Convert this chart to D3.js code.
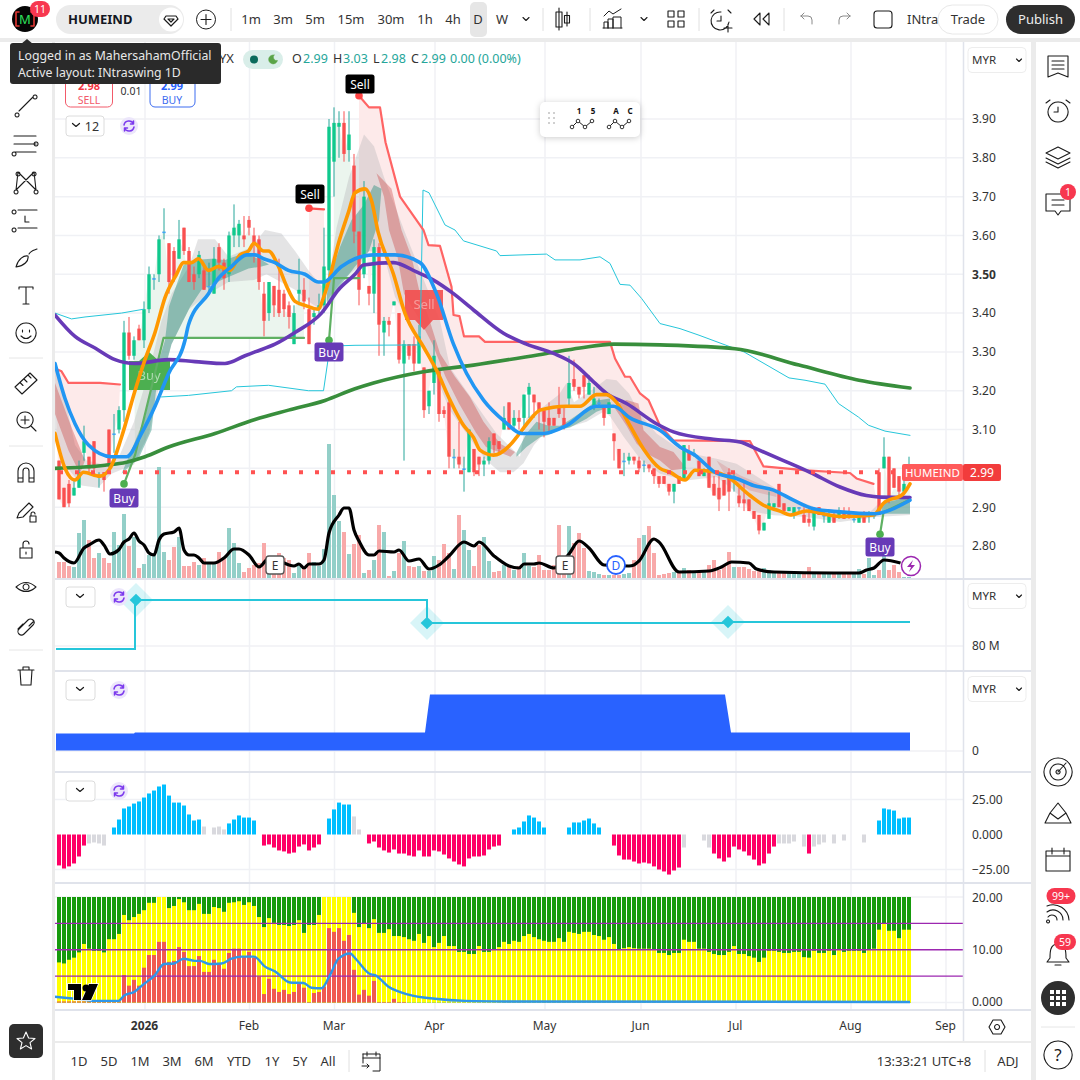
<!DOCTYPE html>
<html>
<head>
<meta charset="utf-8">
<title>HUMEIND</title>
<script src="https://cdn.jsdelivr.net/npm/d3@7/dist/d3.min.js"></script>
<style>
    html, body { margin: 0; padding: 0; background: #fff; }
    svg { display: block; }
    text { font-family: "Noto Sans", sans-serif; }
</style>
</head>
<body>
<script>
// prices are kept in sen, one entry per daily bar
var opens = [302,295,296,293,295,304,303,307,298,299,
    310,309,310,315,335,329,336,333,341,349,
    350,361,358,356,354,362,356,350,350,351,
    347,345,357,353,350,360,360,360,364,360,
    359,345,340,347,346,345,342,332,345,346,
    341,339,341,342,351,379,388,389,382,378,
    361,350,347,345,357,335,338,342,340,327,
    332,332,327,326,316,322,325,315,317,303,
    303,300,299,305,303,301,302,309,307,310,
    317,311,313,313,319,319,317,315,313,313,
    316,313,318,323,321,324,319,316,317,316,
    314,309,305,302,302,303,302,301,301,300,
    298,298,296,294,298,297,304,304,302,298,
    303,296,295,297,299,298,293,292,292,289,
    288,284,287,290,296,291,289,288,290,288,
    287,285,290,288,286,288,288,289,289,287,
    286,288,288,288,299,300,303,300,298,294,299];
var highs = [302,295,297,297,302,311,303,307,299,299,
    310,314,316,338,339,334,337,343,352,350,
    360,367,358,357,364,362,357,352,356,352,
    353,357,358,354,361,368,364,365,365,362,
    360,348,348,347,354,346,343,342,354,349,
    344,341,345,362,390,393,392,392,392,381,
    361,374,347,359,358,339,339,343,340,333,
    332,334,337,326,320,333,325,316,318,305,
    312,303,310,305,303,303,308,309,307,316,
    317,315,315,319,322,319,317,315,317,313,
    321,316,329,328,321,324,324,321,318,316,
    317,309,305,304,304,303,303,302,301,300,
    298,298,296,296,298,306,306,305,302,300,
    303,298,298,297,300,299,295,297,292,289,
    288,286,294,291,296,291,290,290,290,290,
    290,290,290,289,289,289,290,290,290,288,
    288,289,289,288,300,308,303,300,298,300,303];
var lows = [292,290,290,293,295,302,299,299,295,294,
    299,304,309,312,328,328,333,331,340,346,
    348,359,345,348,354,355,348,346,349,346,
    345,345,351,346,348,357,357,357,360,353,
    346,334,338,339,339,339,336,332,342,341,
    332,337,339,340,349,370,380,379,379,358,
    342,349,342,340,329,329,334,342,327,302,
    328,325,327,313,314,319,312,313,300,300,
    300,294,299,298,298,298,301,304,304,310,
    310,310,310,310,313,313,310,308,309,311,
    313,310,316,320,318,318,319,315,316,311,
    314,302,300,298,301,301,299,299,299,296,
    295,296,293,291,296,297,302,303,298,298,
    295,293,289,293,289,294,290,289,289,287,
    283,284,287,289,290,289,289,287,289,286,
    285,284,288,286,286,286,287,287,287,286,
    286,286,286,287,288,300,291,295,293,294,298];
var closes = [292,290,291,295,299,307,300,300,298,297,
    301,309,315,335,329,333,333,341,350,349,
    359,361,348,349,359,356,348,348,355,346,
    347,354,353,349,360,362,363,359,362,358,
    348,338,348,342,340,341,339,340,346,343,
    332,340,342,352,388,389,389,381,386,361,
    346,370,345,357,337,338,337,343,328,332,
    329,327,334,315,320,329,314,314,303,303,
    301,300,310,299,301,302,307,306,305,313,
    310,313,312,319,321,317,315,312,311,311,
    314,311,322,321,319,321,322,318,317,313,
    317,307,300,302,303,302,300,301,300,298,
    296,296,294,296,296,306,302,304,298,299,
    295,293,292,293,294,298,291,291,289,287,
    284,286,291,291,290,289,290,290,290,286,
    286,289,288,288,288,286,289,287,288,287,
    288,286,288,288,288,303,292,295,294,296,299];

var volumes = [16,16,12,11,45,58,38,20,25,20,
    15,46,33,64,32,41,10,14,23,25,
    111,26,18,31,41,12,12,16,13,20,
    15,14,26,19,50,35,15,6,10,13,
    15,35,5,15,25,20,18,5,15,11,
    25,16,12,29,134,83,57,46,24,34,
    43,5,8,18,53,46,2,7,25,37,
    12,11,12,7,7,22,18,34,25,9,
    63,48,28,12,33,41,17,6,7,13,
    12,8,12,25,12,11,23,8,8,13,
    53,10,52,35,45,30,7,6,4,3,
    3,3,3,4,5,18,40,43,52,25,
    3,4,5,6,5,10,8,6,6,8,
    13,18,8,13,26,11,11,11,9,7,
    7,10,8,5,5,6,5,4,4,5,
    11,6,6,5,5,5,5,4,4,5,
    9,4,20,3,8,28,8,13,6,1,1];

// overlay lines: [bar, sen]
var orangeLine = [[-0.8,309],[1.2,300],[3.2,297],[4.9,299],[8.2,298],[10.2,300],[12.5,308],[15.2,320],[17.2,328],[19.2,335],
    [21.2,344],[23.5,350],[24.9,353],[26.5,353],[27.9,354],[29.9,351],[31.9,352],[34.2,351],[36.2,355],[37.9,356],[39,358],
    [40.9,356],[41.9,356],[43.9,352],[45.5,347],[47.2,343],[49.2,342],[51.9,341],[52.9,344],[53.9,348],[55.9,358],[57.9,366],
    [59.2,371],[61.2,372],[62.5,369],[63.8,361],[66.9,350],[69.2,339.9],[72.9,331.3],[75.5,325.3],[78.2,317.6],[80.9,311.1],
    [82.9,308],[84.2,304.7],[86.9,303.4],[90.2,306],[91.5,308],[93.9,312],[96.2,315],[101.5,316],[104.2,316],[107.5,319],[109.5,319],
    [111.5,317],[114.2,311],[116.9,305],[120.2,300],[122.2,299],[125.2,297],[127.2,299.5],[131.5,299],[133.5,298],[138.2,293],
    [140.9,290.5],[144.2,289],[146.2,288],[149.5,289],[156.2,287.6],[162.9,288],[164.9,291],[168.9,293.5],[170.2,296]];
var blueLine = [[-0.8,327],[1.2,318],[3.2,311.5],[5.9,306],[10.5,303],[13.5,303],[16.5,309],[19.2,316],[21.9,324.4],[25.2,333],
    [25.9,337],[29.9,345],[31.9,349],[34.5,352],[37.5,355],[39.2,355],[40.9,354],[43.2,353],[45.9,351],[49.2,350],[51.9,348],
    [52.9,348],[56.5,352],[59.2,354],[62.9,355],[67.2,355],[72.2,353],[75.5,345],[78.9,332],[81.5,324.5],[84.9,317.6],[89.2,312],
    [92.5,309],[96.9,309],[101.5,311],[107.5,316],[110.9,316],[114.2,313],[120.2,309.8],[124.2,305.5],[127.2,303.4],[131.2,299],
    [135.5,297.4],[138.9,295.6],[142.9,294.4],[146.9,291.8],[150.9,289.6],[156.2,288.8],[162.9,288.3],[164.9,288.7],[170.2,291.8]];
var purpleLine = [[-0.8,339.5],[3.2,334],[7.2,331],[11.2,328],[15.2,327],[21.9,328],[27.2,327.5],[33.2,327],[37.2,329],[39.2,330],
    [43.2,332],[47.2,335],[52.5,340],[55.9,346],[59.2,350],[60.9,352.4],[66.9,353],[71.5,350.6],[74.9,348.5],[78.9,345],[82.9,340.8],
    [88.9,334.8],[93.5,332],[98.9,329.6],[102.9,327],[106.9,322.3],[109.5,319.3],[113.5,316.7],[119.5,311.5],[122.9,309.4],[130.9,307.5],
    [136.2,306.8],[139.5,305],[144.9,302],[150.2,299],[156.2,295.2],[161.5,293],[164.2,292.6],[170.2,292.5]];
var greenLine = [[-0.8,300],[9.2,300.8],[13.5,301.6],[17.2,303],[21.9,305.5],[31.2,309],[39.2,312.6],[45.9,315],[53.2,317.5],[59.2,320.5],
    [62.9,322],[72.9,324.9],[82.9,326.6],[97.5,329.6],[104.2,331],[110.9,332],[120.2,331.8],[135.2,330.8],[148,326.6],[160,322.7],[170.2,320.7]];
var cyanLow = [[-0.8,340],[2.5,338.5],[5.2,339],[12.5,340],[16.9,341]];
var cyanBand = [[20.5,318.4],[25.9,318.8],[34.5,320],[35.5,321],[41.9,321.4],[49.9,320],[52.9,320],[54.2,331.5],[59.2,331.7],[72.2,331.8],
    [72.8,371.7],[74,371],[77.2,362.7],[79.2,361.4],[80.9,358.6],[87.5,356],[88.2,354.8],[97.5,355.2],[99.2,353.7],[104.2,353.7],
    [108.2,354.5],[110.2,352.8],[112.2,347.4],[114.2,347.2],[116.5,343.8],[120.2,337.3],[124.2,336],[128,334.3],[137,330],[146,323.3],
    [149.2,322.7],[153.2,321.7],[155.9,316.7],[159.9,313.2],[161.9,311.1],[165.2,309.6],[170.2,308.5]];

// trend stop segments: stop line against the closes
var redStopA = [[-0.8,325.7],[0.5,325],[1.9,322],[8.2,322],[12.2,321.6]];
var redStopB = [[50,367],[53,366.7]];
var redStopC = [[60,396],[62,393],[64.2,393],[65.3,384],[68.2,370],[72.9,361.4],[73.9,357.5],[76.2,357.3],[78.5,346.8],[78.9,339.5],[80.1,339.2],
    [81,334],[84,334],[85.2,332.6],[110.2,332.6],[111.2,328.3],[113.2,323.6],[114.2,323.6],[116.2,319.3],[117.9,317.6],[120.2,311],
    [122.9,307.2],[138.2,307],[140.9,300.5],[149.5,299.5],[158.2,298.8],[159.5,297.4],[162.9,296]];
var greenStopA = [[13,296],[15.2,303.4],[20.9,333.6],[49,333.6]];
var greenStopB = [[54,333],[55,349],[60,349]];
var greenStopC = [[164.2,283],[164.9,288.7],[170.2,292]];

// cloud bands
var greyUpper = [[-0.8,326],[1.2,318],[3.2,306],[5.5,302],[9,301],[12,303],[15,312],[18,325],[20.5,338],[22.5,345],[26,352],[27.8,359],[31.2,359],
    [33.9,354.5],[38.5,357],[41.2,361.4],[44.5,360.5],[47.2,356],[49.9,351],[52.5,347],[54,349],[55.5,362],[58,375],[61,386],[63,383],[65,375],
    [69,361.4],[76.2,338],[78.2,326],[84.2,315],[87.5,309],[92.2,303],[93.5,313],[97,316],[100,319],[101.5,322],[103,317],[107.5,321],[109.5,323],
    [111.5,322.7],[114,319.3],[116.2,314],[119.5,309],[124.9,304.2],[131.5,302.5],[135.5,301.2],[142.9,295.2],[145.5,292.6],[152.2,289.6],[162,288.5],[164,291],[170.2,293]];
var greyLower = [[-0.8,310],[1.2,301],[4.5,295.6],[7.8,295],[10.5,298.6],[15,301],[18,309],[20,321],[22.5,332],[26,341],[29.9,345],[33.9,348],[39,348.5],
    [41.5,350],[47.2,346],[50.5,342.5],[52.5,340.8],[54,344],[57,349],[60,352],[62,356],[64.9,355.4],[67.2,344.2],[70.2,337.3],[73.5,329.6],[76.2,321],
    [78.2,315],[82.9,306.4],[85.5,302],[88.2,299],[90.9,299],[92.9,301.3],[95,306],[97,309],[100,309.8],[105.5,312],[108.9,314.6],[110.2,313.4],[113,308],
    [116.2,302.5],[120.2,298.6],[125.5,296.9],[131.5,297.8],[134.9,294.4],[138.9,288.8],[142.9,287.9],[149.5,287.5],[156.2,286.2],[163.5,287.5],[170.2,288]];
var tealBands = [
    {up: [[12.5,298.6],[14.2,303.8],[17.2,313.2],[19.2,324.4],[21.2,333],[22,341.7],[24.9,352.4],[26.9,353.7],[30.5,354],[33.2,353.7],[37,355.4],[40.5,353.7],[42,352.5]],
     dn: [[12.5,298.6],[15.9,302.5],[18.5,309.8],[19.5,321],[20.5,322],[22.5,332],[25.2,339],[26.2,341.6],[28.5,346],[32.5,348.5],[37.9,351.5],[40.5,352],[42,352.5]]},
    {up: [[53.6,345],[54.2,349.4],[56.2,357],[58.5,364],[59.2,365],[61,368],[63,373],[64.5,372]],
     dn: [[53.6,342.5],[55,345],[59.2,352],[62,356],[64,364],[64.5,372]]},
    {up: [[91.5,304],[93.5,309],[95.5,312],[97.9,311],[100.2,311],[102.2,312.5],[105.5,315.4],[107.5,317.5],[110.2,318]],
     dn: [[91.5,303],[93.5,305.5],[96.2,308],[97.9,308.6],[100.2,310],[102.2,310.5],[105.5,312.8],[107.5,314.6],[110.2,315.9]]},
    {up: [[164.5,291],[170.2,292.6]], dn: [[164.5,288.3],[170.2,288.3]]}
];
var redBands = [
    {up: [[-0.8,322],[2.5,310.6],[5.2,302]], dn: [[-0.8,314],[1.9,304.6],[4.2,298.6],[5.2,302]]},
    {up: [[63.5,376],[66.5,372],[68.5,361.4],[70.5,354.5],[72.2,345],[73.9,339],[76.2,329.6],[79.2,323.6],[82.2,318.4],[84.9,312],[88.2,306.4],[91.2,304.2]],
     dn: [[63.5,376],[65,370],[66,361.4],[67.7,354.5],[69,345],[72,338.6],[74.7,332],[77.3,323.6],[80,316.7],[83.4,309.2],[85.4,305.5],[90.3,303],[91.2,304.2]]},
    {up: [[110.9,316],[113.5,317.6],[115.9,316.7],[116.9,309.8],[120.2,305.5],[122.9,304.2],[125.5,300]],
     dn: [[110.9,316],[113.5,311],[115.5,306.4],[117.5,303.8],[120.2,302],[122.5,299.5],[125.5,300]]},
    {up: [[131.5,302],[136.2,298.2],[140.2,296],[143.5,293.5]], dn: [[131.5,302],[133.5,297.8],[138.2,294.3],[143.5,292.6]], faint: true}
];

// black line over the volume bars, same units as the volumes
var blackLine = [[-0.8,26],[0,25],[1,20],[3,15],[5,30],[6,33],[8,38],[9,33],[10.2,24],[11.9,28],[13,36],[14,39],[15,45],[16,37],[17,33],[18,25],[19,23],
    [20,38],[21,44],[23,46],[24,50],[25,28],[26,23],[27,23],[28,20],[29,15],[31,15],[33,20],[35,29],[36,29],[38,23],[40,11],[42,20],[45,15],[46,13],[47,12],
    [48,14],[49,10],[50,14],[52,14],[53,18],[54,45],[56,63],[57,70],[58,70],[59,48],[60,37],[62,23],[63,23],[64,27],[67,26],[68,28],[70,17],[72,19],[74,9],
    [76,13],[78,22],[81,36],[83,32],[84,36],[87,22],[90,12],[92,10],[93,14],[95,14],[96,15],[99,10],[102,24],[104,37],[106,30],[109,13],[114,12],[115,13],
    [116,17],[119,39],[120,36],[124,6],[130,7],[132.5,11],[134.5,16],[138,15],[139.5,9],[143,6],[155,5],[160,5],[161.5,8],[163,10],[165,18],[168.3,15]];

// lower panes
var floatSteps = [[-0.6,77],[15.2,77],[15.2,126],[73.6,126],[73.6,103],[133.8,103],[133.8,104],[170.2,104]];
var floatMarks = [[15.4,126],[73.6,103],[133.8,104]];
var sharesArea = [[-0.6,17],[15,17],[15.2,18],[73.2,18],[74.2,56],[133.2,56],[134.4,18],[170.2,18]];
var histValues = [-22.1,-24.3,-22.8,-20.7,-15.7,-7.9,-6.4,-5.7,-6.4,-7.9,
    0,5,10.7,18.6,20,22.1,23.6,26.4,29.3,31.4,
    34.3,35.7,27.8,22.8,22.8,20.7,14.3,10,10.7,5.7,
    0,5,5.7,3.6,7.9,10.7,13.6,12.1,12.1,10,
    0,-7.9,-7.1,-9.3,-11.4,-12.1,-13.6,-12.9,-8.6,-7.1,
    -11.4,-9.3,-7.1,0,11.4,17.9,22.8,21.4,21.4,12.9,
    3.6,0,-6.4,-5,-9.3,-11.4,-12.9,-10.7,-13.6,-13.6,
    -15,-15.7,-11.4,-15.7,-15.7,-11.4,-12.1,-14.3,-17.1,-19.3,
    -21.4,-22.8,-17.1,-15.7,-15.7,-15,-10.7,-8.6,-7.9,0,
    0,3.6,5,9.3,13.6,12.1,9.3,5,0,0,
    0,0,5,8.6,8.6,10,11.4,7.9,5,0,
    0,-7.9,-15,-17.9,-17.9,-19.3,-20.7,-20,-20.7,-22.8,
    -25,-26.4,-28.6,-25.7,-23.6,-9.3,0,0,0,-4.3,
    -9.3,-13.6,-17.1,-19.3,-16.4,-8.6,-10.7,-12.1,-15,-17.9,
    -22.1,-20.7,-13.6,-8.6,-6.4,-6.4,-6.4,-5,0,-8.6,
    -13.6,-8.6,-7.1,-5.7,0,-6.4,0,-4.3,0,0,
    0,-5.7,0,0,10,18.6,17.9,17.1,11.4,12.1,12.1];
var histGrey = [6,7,8,9,29,31,32,33,59,60,125,129,130,144,145,146,147,149,151,152,153,155,157,161];
var yellowTops = [7.6,7.4,8.1,8.5,9.5,11.1,10.2,9.8,9.8,9.5,
    12,12,13,16.6,15.6,16.2,16.8,17.5,18.9,18.9,
    20,20,17.9,18.3,19.6,19,17.5,17.5,18.7,16.8,
    16.8,18.1,17.9,17.2,18.9,19,19.2,18.5,19,18.3,
    16.2,14.3,16,15.1,14.7,14.7,14.5,14.7,15.6,13.2,
    14.7,14.7,16.6,20,20,20,20,20,20,17,
    14.3,14.9,14.1,15.8,13.2,13.2,13.9,12.6,12.6,12.4,
    12,11.7,13,11.3,12.6,10.5,11.3,12.6,10.7,10.7,
    9.6,9.6,9.2,9.2,10.7,9.6,9.6,10,10.5,11.5,
    11.1,11.7,11.5,12.6,13,12.4,12,11.7,11.5,11.5,
    12.2,11.5,13.4,13.2,13,13.4,13.4,12.8,12.6,11.9,
    12.4,11.1,10,10.3,10.5,10.3,10.2,10.2,10.2,10,
    9.4,9.4,9,9.4,9.4,11.9,11.5,11.5,10.2,10.2,
    9.6,9.2,9,9,9.6,10.7,9.2,9.2,8.8,8.5,
    7.7,8.5,9.8,9.8,9.6,9.4,9.4,9.6,9.6,8.6,
    8.5,9.8,9.4,9.4,9.8,9,10,9.6,9.8,9.8,
    9.8,9.4,10,10.2,13.8,14.9,13.6,13.6,12.2,13.8,13.8];
var redTops = [0.2,0.2,0.2,0.2,0.2,0.2,0.2,0.2,0.2,0.2,
    0.2,0.2,0.2,5.2,3.2,4.3,3.2,6.6,9,9,
    11.5,11.5,7.7,7.9,10.5,9.6,6.9,6.9,8.8,5.8,
    5.8,8.1,7.5,6.4,9.4,10.2,10.2,8.8,9.6,8.5,
    4.9,1.6,4.5,2.6,2,2.4,1.6,2,3.5,2.8,
    0.1,1.8,2,3,14.1,13.4,14.1,11.7,12.8,6.2,
    1.5,2.4,1.3,4.1,0.1,0.1,0.1,0.7,0.1,0.1];
var stackLine = [[-0.8,1.1],[3.2,0.7],[7.2,0.3],[11.9,0.3],[13,1.3],[15.2,2.1],[16.7,3.3],[19.2,5.2],[21,7.3],[23,7.4],[24.9,8.3],[27.2,7.9],[28.2,7.9],
    [30,7.3],[32.5,7.4],[34.5,8.3],[36.5,8.7],[39,8.7],[41.2,6.8],[43.2,5.9],[46.2,3.8],[48.9,3.7],[50.5,2.8],[52.5,2.7],[54.2,5.2],[55.9,8.3],[58.2,9.3],
    [59.5,8.1],[62.2,5.4],[63.2,5.2],[65.9,3],[69.9,1.5],[75.2,0.7],[81.2,0.3],[89.2,0.2],[170.2,0.1]];
var stackLevels = [5, 10, 15];

// axis labels
var priceTicks = [3.9,3.8,3.7,3.6,3.5,3.4,3.3,3.2,3.1,2.9,2.8];
var histTicks = [25,0,-25];
var stackTicks = [20,10,0];
var monthBars = [17.2,38.1,55.1,75.2,97.2,116.4,135.4,158.4,177.4];
var monthNames = ["2026","Feb","Mar","Apr","May","Jun","Jul","Aug","Sep"];
var timeframes = ["1m","3m","5m","15m","30m","1h","4h","D","W"];
var timeframeX = [251,283,315,351,391,425,453,478,502];
var ranges = ["1D","5D","1M","3M","6M","YTD","1Y","5Y","All"];
var rangeX = [79,109,140,172,204,239,272,300,328];
var lastClose = 2.99;

var W = 1080, H = 1080;
var TEXT = "#131722", UP = "#26a69a", DOWN = "#f95050";

var svg = d3.select("body").append("svg").attr("width", W).attr("height", H);
svg.append("rect").attr("width", W).attr("height", H).attr("fill", "#fff");

// ----- SCALES -----

var x = d3.scaleLinear().domain([0, 170]).range([59, 909]);
var yPrice = d3.scaleLinear().domain([2.8, 3.9]).range([546, 119]);
var yVol = d3.scaleLinear().domain([0, 135]).range([578, 443]);
var yFloat = d3.scaleLinear().domain([80, 126]).range([646, 600]);
var yShares = d3.scaleLinear().domain([0, 57]).range([750.5, 693.5]);
var yHist = d3.scaleLinear().domain([-25, 25]).range([869.5, 799.5]);
var yStack = d3.scaleLinear().domain([0, 20]).range([1002.5, 897]);

function priceLine(pts, curve) {
    return d3.line()
        .x(function(d) { return x(d[0]); })
        .y(function(d) { return yPrice(d[1] / 100); })
        .curve(curve || d3.curveLinear)(pts);
}

// ----- GRID -----

var grid = svg.append("g").attr("stroke", "#f0f1f5").attr("stroke-width", 1.5);
monthBars.forEach(function(m) {
    grid.append("line").attr("x1", x(m)).attr("x2", x(m)).attr("y1", 42).attr("y2", 1010);
});
[3.9,3.8,3.7,3.6,3.5,3.4,3.3,3.2,3.1,3.0,2.9,2.8].forEach(function(p) {
    grid.append("line").attr("x1", 55).attr("x2", 963).attr("y1", yPrice(p)).attr("y2", yPrice(p));
});
[25, -25].forEach(function(v) {
    grid.append("line").attr("x1", 55).attr("x2", 963).attr("y1", yHist(v)).attr("y2", yHist(v));
});
[20, 0].forEach(function(v) {
    grid.append("line").attr("x1", 55).attr("x2", 963).attr("y1", yStack(v)).attr("y2", yStack(v));
});
grid.append("line").attr("x1", 55).attr("x2", 963).attr("y1", 646).attr("y2", 646);
grid.append("line").attr("x1", 55).attr("x2", 963).attr("y1", 751).attr("y2", 751);

// ----- VOLUME -----

svg.append("g").selectAll("rect").data(volumes).enter().append("rect")
    .attr("x", function(d, i) { return x(i) - 2; })
    .attr("width", 4)
    .attr("y", function(d) { return yVol(d); })
    .attr("height", function(d) { return yVol(0) - yVol(d); })
    .attr("fill", function(d, i) { return closes[i] >= opens[i] ? "#93cfc8" : "#f8a9a9"; });

svg.append("path")
    .attr("d", d3.line().x(function(d) { return x(d[0]); }).y(function(d) { return yVol(d[1]); }).curve(d3.curveMonotoneX)(blackLine))
    .attr("fill", "none").attr("stroke", "#000").attr("stroke-width", 3.2);

// ----- TREND FILLS -----

function stopFill(stop, from, to, color) {
    var back = [];
    for (var i = to; i >= from; i--) back.push([i, closes[i]]);
    svg.append("path").attr("d", priceLine(stop.concat(back)) + "Z").attr("fill", color).attr("stroke", "none");
}
stopFill(redStopA, 0, 12, "#fdeaea");
stopFill(redStopB, 50, 53, "#fdeaea");
stopFill(redStopC, 60, 164, "#fdeaea");
stopFill(greenStopA.slice(1), 15, 49, "#ebf5ee");
stopFill(greenStopB.slice(1), 55, 60, "#ebf5ee");
stopFill(greenStopC.slice(1), 165, 170, "#ebf5ee");

// ----- CLOUD -----

function band(up, dn, color, op) {
    svg.append("path")
        .attr("d", priceLine(up.concat(dn.slice().reverse())) + "Z")
        .attr("fill", color).attr("opacity", op);
}
band(greyUpper, greyLower, "#b4b4b8", 0.36);
redBands.forEach(function(b) { band(b.up, b.dn, "#c93c3c", b.faint ? 0.18 : 0.36); });
tealBands.forEach(function(b) { band(b.up, b.dn, "#1f8a78", 0.42); });

// ----- BIG SIGNAL BOXES -----

var bigBuy = svg.append("g").attr("transform", "translate(149,352)");
bigBuy.append("path").attr("d", "M0,0 L10,9 L21,9 L21,38 L-20,38 L-20,9 L-10,9 Z").attr("fill", "#4caf50");
bigBuy.append("text").attr("y", 28).attr("text-anchor", "middle").attr("font-size", 13).attr("fill", "#fff").attr("opacity", 0.55).text("Buy");
var bigSell = svg.append("g").attr("transform", "translate(424,330)");
bigSell.append("path").attr("d", "M0,0 L-9,-10 L-19,-10 L-19,-40 L19,-40 L19,-10 L9,-10 Z").attr("fill", "#f25050").attr("opacity", 0.92);
bigSell.append("text").attr("y", -21).attr("text-anchor", "middle").attr("font-size", 13).attr("fill", "#fff").attr("opacity", 0.4).text("Sell");

// ----- CANDLES -----

var candle = svg.append("g").selectAll("g").data(closes).enter().append("g");
candle.append("line")
    .attr("x1", function(d, i) { return x(i); })
    .attr("x2", function(d, i) { return x(i); })
    .attr("y1", function(d, i) { return yPrice(highs[i] / 100); })
    .attr("y2", function(d, i) { return yPrice(lows[i] / 100); })
    .attr("stroke", function(d, i) { return closes[i] >= opens[i] ? UP : DOWN; });
candle.append("rect")
    .attr("x", function(d, i) { return x(i) - 1.7; })
    .attr("width", 3.4)
    .attr("y", function(d, i) { return yPrice(Math.max(opens[i], closes[i]) / 100); })
    .attr("height", function(d, i) { return Math.max(1.6, Math.abs(opens[i] - closes[i]) * 3.88); })
    .attr("fill", function(d, i) {
        if (opens[i] == closes[i]) return "#42a5f5";
        return closes[i] > opens[i] ? "#10c98d" : DOWN;
    });

// ----- STOP LINES AND BANDS -----

function stroke(pts, color, width, curve) {
    return svg.append("path").attr("d", priceLine(pts, curve))
        .attr("fill", "none").attr("stroke", color).attr("stroke-width", width)
        .attr("stroke-linejoin", "round").attr("stroke-linecap", "round");
}
stroke(cyanLow, "#26c6da", 1);
stroke(cyanBand, "#26c6da", 1);
stroke(redStopA, "#ff6464", 2.2);
stroke(redStopB, "#ff5252", 2.2);
stroke(redStopC, "#ff6464", 2.2);
stroke(greenStopA, "#5fb063", 2.2);
stroke(greenStopB, "#5fb063", 2.2);
stroke(greenStopC, "#5fb063", 2.2);
stroke(greenLine, "#388e3c", 3.6, d3.curveMonotoneX);
stroke(purpleLine, "#673ab7", 3.6, d3.curveMonotoneX);
stroke(orangeLine, "#ff9800", 3.6, d3.curveMonotoneX);
stroke(blueLine, "#2196f3", 3.6, d3.curveMonotoneX);

// ----- LAST PRICE -----

var dots = svg.append("g").attr("fill", "#ff5252");
d3.range(59, 963, 16).forEach(function(dx) {
    dots.append("rect").attr("x", dx).attr("y", yPrice(lastClose) - 2).attr("width", 4).attr("height", 4);
});

// ----- AXES -----

function axis(scale, ticks, fmt) {
    var g = svg.append("g").attr("transform", "translate(963,0)")
        .call(d3.axisRight(scale).tickValues(ticks).tickFormat(fmt).tickSize(0).tickPadding(9));
    g.select(".domain").remove();
    g.selectAll("text").attr("font-size", 12).attr("fill", "#333").attr("font-family", "'Noto Sans', sans-serif");
    return g;
}
var priceAxis = axis(yPrice, priceTicks, d3.format(".2f"));
priceAxis.selectAll("text").attr("font-weight", function(d) { return d == 3.5 ? "bold" : null; });
axis(yFloat, [80], function(d) { return d + " M"; });
axis(d3.scaleLinear().domain([0, 1]).range([751, 750]), [0], function() { return "0"; });
axis(yHist, histTicks, function(d) { return d == 0 ? "0.000" : d3.format(".2f")(d).replace("-", "\u2212"); });
axis(d3.scaleLinear().domain([0, 20]).range([1002, 898]), stackTicks, function(d) { return d == 0 ? "0.000" : d3.format(".2f")(d); });

var timeAxis = svg.append("g").attr("transform", "translate(-1,1010)")
    .call(d3.axisBottom(x).tickValues(monthBars).tickFormat(function(d, i) { return monthNames[i]; }).tickSize(0).tickPadding(11));
timeAxis.select(".domain").remove();
timeAxis.selectAll("text").attr("font-size", 12).attr("fill", "#333").attr("font-family", "'Noto Sans', sans-serif")
    .attr("font-weight", function(d, i) { return i == 0 ? "bold" : null; });

// ----- PANE 2 -----

svg.append("path")
    .attr("d", d3.line().x(function(d) { return x(d[0]); }).y(function(d) { return yFloat(d[1]); })(floatSteps))
    .attr("fill", "none").attr("stroke", "#26c6da").attr("stroke-width", 2);
floatMarks.forEach(function(m) {
    var g = svg.append("g").attr("transform", "translate(" + x(m[0]) + "," + yFloat(m[1]) + ") rotate(45)");
    g.append("rect").attr("x", -12).attr("y", -12).attr("width", 24).attr("height", 24).attr("fill", "#26c6da").attr("opacity", 0.18);
    g.append("rect").attr("x", -4.5).attr("y", -4.5).attr("width", 9).attr("height", 9).attr("fill", "#26c6da");
});

// ----- PANE 3 -----

svg.append("path")
    .attr("d", d3.area().x(function(d) { return x(d[0]); }).y0(yShares(0)).y1(function(d) { return yShares(d[1]); })(sharesArea))
    .attr("fill", "#2962ff");

// ----- PANE 4 -----

svg.append("g").selectAll("rect").data(histValues).enter().append("rect")
    .attr("x", function(d, i) { return x(i) - 2; })
    .attr("width", 4)
    .attr("y", function(d) { return yHist(Math.max(d, 0)); })
    .attr("height", function(d) { return Math.abs(yHist(d) - yHist(0)); })
    .attr("fill", function(d, i) {
        if (histGrey.indexOf(i) != -1) return "#d9d9de";
        return d > 0 ? "#00bfff" : "#ff0066";
    });

// ----- PANE 5 -----

closes.forEach(function(c, i) {
    var bx = x(i) - 2;
    svg.append("rect").attr("x", bx).attr("width", 4).attr("y", yStack(20)).attr("height", yStack(0) - yStack(20)).attr("fill", "#169a0c");
    svg.append("rect").attr("x", bx).attr("width", 4).attr("y", yStack(yellowTops[i])).attr("height", yStack(0) - yStack(yellowTops[i])).attr("fill", "#ffff00");
    var r = i < redTops.length ? redTops[i] : 0;
    if (r > 0) svg.append("rect").attr("x", bx).attr("width", 4).attr("y", yStack(r)).attr("height", yStack(0) - yStack(r)).attr("fill", "#f05a50");
});
stackLevels.forEach(function(v) {
    svg.append("line").attr("x1", 55).attr("x2", 963).attr("y1", yStack(v)).attr("y2", yStack(v)).attr("stroke", "#9c27b0").attr("stroke-width", 1.3);
});
svg.append("path")
    .attr("d", d3.line().x(function(d) { return x(d[0]); }).y(function(d) { return yStack(d[1]); }).curve(d3.curveMonotoneX)(stackLine))
    .attr("fill", "none").attr("stroke", "#2f96e8").attr("stroke-width", 2.4);

// tv watermark
var tv = svg.append("g").attr("transform", "translate(68,984)");
tv.append("path").attr("d", "M0,0 H13 V16 H6 V6 H0 Z M14,16 L21,0 H30 L23,16 Z").attr("fill", "#000").attr("stroke", "#fff").attr("stroke-width", 1.5).attr("paint-order", "stroke");
tv.append("circle").attr("cx", 18).attr("cy", 4).attr("r", 3.5).attr("fill", "#000");

// ----- PANE BORDERS -----

var frame = svg.append("g").attr("stroke", "#e0e3eb").attr("stroke-width", 2);
[579, 671, 772, 883, 1010].forEach(function(yy) {
    frame.append("line").attr("x1", 55).attr("x2", 1031).attr("y1", yy).attr("y2", yy);
});
frame.append("line").attr("x1", 963.5).attr("x2", 963.5).attr("y1", 42).attr("y2", 1041).attr("stroke-width", 1.5);

// ----- SIGNAL LABELS -----

function signal(bar, sen, tx, ty, label, bg, dot) {
    svg.append("circle").attr("cx", x(bar)).attr("cy", yPrice(sen / 100)).attr("r", 3.8).attr("fill", dot);
    svg.append("rect").attr("x", tx - 14.5).attr("y", ty - 9.5).attr("width", 29).attr("height", 19).attr("rx", 2.5).attr("fill", bg);
    svg.append("text").attr("x", tx).attr("y", ty + 4.5).attr("text-anchor", "middle").attr("font-size", 12).attr("fill", "#fff").text(label);
}
signal(60, 396, 360, 84, "Sell", "#000", "#f44");
signal(50, 367, 310, 194, "Sell", "#000", "#f44");
signal(13, 296, 124, 498, "Buy", "#673ab7", "#4caf50");
signal(54, 333, 329, 352, "Buy", "#673ab7", "#4caf50");
signal(164.2, 283, 880, 547, "Buy", "#673ab7", "#4caf50");

function letterMark(cx, label) {
    svg.append("rect").attr("x", cx - 9).attr("y", 556).attr("width", 18).attr("height", 18).attr("rx", 3).attr("fill", "#fff").attr("stroke", "#555").attr("stroke-width", 1.3);
    svg.append("text").attr("x", cx).attr("y", 569.5).attr("text-anchor", "middle").attr("font-size", 12).attr("fill", "#333").text(label);
}
letterMark(275, "E");
letterMark(565, "E");
svg.append("circle").attr("cx", 616).attr("cy", 565).attr("r", 9).attr("fill", "#fff").attr("stroke", "#2962ff").attr("stroke-width", 1.8);
svg.append("text").attr("x", 616).attr("y", 569.5).attr("text-anchor", "middle").attr("font-size", 12).attr("fill", "#2962ff").text("D");
svg.append("circle").attr("cx", 911).attr("cy", 566).attr("r", 9.5).attr("fill", "#fff").attr("stroke", "#9c27b0").attr("stroke-width", 1.5);
svg.append("path").attr("d", "M913,560 L907,567 H911 L909,572 L915,565 H911 Z").attr("fill", "#9c27b0");

// price flag
svg.append("rect").attr("x", 902).attr("y", 464).attr("width", 61).attr("height", 17).attr("rx", 2).attr("fill", "#ff5a5a");
svg.append("text").attr("x", 932.5).attr("y", 477).attr("text-anchor", "middle").attr("font-size", 11.5).attr("fill", "#fff").text("HUMEIND");
svg.append("rect").attr("x", 963).attr("y", 464).attr("width", 38).attr("height", 17).attr("rx", 2).attr("fill", "#f23c3c");
svg.append("text").attr("x", 982).attr("y", 477).attr("text-anchor", "middle").attr("font-size", 12).attr("fill", "#fff").text("2.99");

// ----- PAGE CHROME -----

var chrome = svg.append("g");
chrome.append("rect").attr("x", 0).attr("y", 0).attr("width", W).attr("height", 38).attr("fill", "#fff");
chrome.append("rect").attr("x", 0).attr("y", 38).attr("width", W).attr("height", 4).attr("fill", "#ebebeb");
chrome.append("rect").attr("x", 52).attr("y", 38).attr("width", 3).attr("height", 1042).attr("fill", "#ebebeb");
chrome.append("rect").attr("x", 1031).attr("y", 38).attr("width", 5).attr("height", 1042).attr("fill", "#ebebeb");
chrome.append("rect").attr("x", 55).attr("y", 1041).attr("width", 976).attr("height", 2).attr("fill", "#ebebeb");

function label(px, py, str, size, color, anchor, weight) {
    return chrome.append("text").attr("x", px).attr("y", py).attr("font-size", size).attr("fill", color || TEXT)
        .attr("text-anchor", anchor || "middle").attr("font-weight", weight || null).text(str);
}
function icon(px, py, d, sw, fill, color) {
    return chrome.append("path").attr("transform", "translate(" + px + "," + py + ")").attr("d", d)
        .attr("fill", fill || "none").attr("stroke", color || "#1a1a1a").attr("stroke-width", sw || 1.1)
        .attr("stroke-linecap", "round").attr("stroke-linejoin", "round");
}
function badge(px, py, str, w) {
    chrome.append("rect").attr("x", px - w / 2).attr("y", py - 8).attr("width", w).attr("height", 16).attr("rx", 8).attr("fill", "#f7374f");
    label(px, py + 3.5, str, 10.5, "#fff");
}

// top bar
chrome.append("circle").attr("cx", 25).attr("cy", 19).attr("r", 13).attr("fill", "#050505");
label(25, 24, "M", 13, "#2ee05a");
icon(25, 19, "M-9,-7 H-6 M-9,-7 V7 H-6 M9,-7 H6 M9,-7 V7 H6", 1.6, null, "#e53935");
badge(40, 9, "11", 20);
chrome.append("rect").attr("x", 56).attr("y", 5).attr("width", 128).attr("height", 29).attr("rx", 14.5).attr("fill", "#ebebeb");
label(68, 24, "HUMEIND", 13, TEXT, "start", "bold");
chrome.append("circle").attr("cx", 171).attr("cy", 19.5).attr("r", 12).attr("fill", "#fff");
icon(171, 20, "M-5,-4 H5 L7,-1 L0,6 L-7,-1 Z M-3,-1 H3 L0,2 Z", 1.2);
chrome.append("circle").attr("cx", 206).attr("cy", 19.5).attr("r", 9.5).attr("fill", "none").attr("stroke", "#1a1a1a");
icon(206, 19.5, "M-5,0 H5 M0,-5 V5", 1.1);
chrome.append("rect").attr("x", 470).attr("y", 2).attr("width", 17).attr("height", 35).attr("rx", 5).attr("fill", "#e6e6e6");
timeframes.forEach(function(t, i) { label(timeframeX[i], 24, t, 13, "#333"); });
icon(526, 19, "M-3,-1.5 L0,1.5 L3,-1.5", 1.1);
[231, 543, 590, 699, 784].forEach(function(dx) {
    chrome.append("line").attr("x1", dx).attr("x2", dx).attr("y1", 8).attr("y2", 31).attr("stroke", "#e0e0e0");
});
icon(562, 19, "M-3,-11 V11 M-6,-7 H0 V8 H-6 Z M5,-7 V7 M2.5,-3.5 H7.5 V4 H2.5 Z", 1.1);
icon(613, 19, "M-9,-3 L-4,-8 L0,-5 L8,-10 M-9,9 V3 H-5 V9 M-5,9 V0 H0 V9 M0,9 V-2 H8 V9 M-10,9 H9", 1);
icon(644, 19, "M-3,-1.5 L0,1.5 L3,-1.5", 1.1);
icon(676, 19, "M-8,-8 H-2 V-2 H-8 Z M2,-8 H8 V-2 H2 Z M-8,2 H-2 V8 H-8 Z M2,2 H8 V8 H2 Z", 1.1);
icon(721, 19, "M0,-7 A9,9 0 1 0 8,3 M0,-3 V2 H-4 M-7,-9 L-10,-6 M7,-9 L10,-6 M7,5 V13 M3,9 H11", 1.1);
icon(762, 19, "M-2,-6 L-8,0 L-2,6 Z M7,-6 L1,0 L7,6 Z", 1.1);
icon(806, 19, "M-5,-3 L-2,-6 M-5,-3 L-2,0 M-5,-3 H2 A4,4 0 0 1 6,1 V5", 1, null, "#8a8a8a");
icon(845, 19, "M5,-3 L2,-6 M5,-3 L2,0 M5,-3 H-2 A4,4 0 0 0 -6,1 V5", 1, null, "#8a8a8a");
chrome.append("rect").attr("x", 874).attr("y", 11).attr("width", 18).attr("height", 17).attr("rx", 3).attr("fill", "none").attr("stroke", "#1a1a1a").attr("stroke-width", 1.1);
label(907, 24, "INtra", 13, "#333", "start");
chrome.append("rect").attr("x", 938).attr("y", 5).attr("width", 60).attr("height", 29).attr("rx", 14.5).attr("fill", "#fff").attr("stroke", "#e8e8e8");
label(968, 24, "Trade", 13, "#333");
chrome.append("rect").attr("x", 1006).attr("y", 5).attr("width", 69).attr("height", 29).attr("rx", 14.5).attr("fill", "#2e2e2e");
label(1040.5, 24, "Publish", 13, "#eee");

// legend row
label(234, 63, "YX", 13, "#333", "end");
chrome.append("rect").attr("x", 243).attr("y", 50).attr("width", 40).attr("height", 19).attr("rx", 9.5).attr("fill", "#d9eee9");
chrome.append("circle").attr("cx", 254).attr("cy", 59.5).attr("r", 4).attr("fill", "#0b6b5c");
icon(273, 59.5, "M1,-4.5 A4.5,4.5 0 1 0 4.5,1 A3.5,3.5 0 0 1 1,-4.5 Z", 0.5, "#5aa447", "#5aa447");
var ohlcLetters = ["O", "H", "L", "C"], ohlcLetterX = [292, 333, 373, 411];
var ohlcValues = ["2.99", "3.03", "2.98", "2.99"], ohlcValueX = [303, 343, 381, 421];
ohlcLetters.forEach(function(s, i) {
    label(ohlcLetterX[i], 63, s, 12.5, "#333", "start");
    label(ohlcValueX[i], 63, ohlcValues[i], 12.5, UP, "start");
});
label(450, 63, "0.00 (0.00%)", 12.5, UP, "start");

// sell / buy buttons
chrome.append("rect").attr("x", 65.5).attr("y", 70).attr("width", 47).attr("height", 37).attr("rx", 5).attr("fill", "#fff").attr("stroke", "#f25a6a");
label(89, 89.5, "2.98", 11, "#f23645", "middle", "bold");
label(89, 103.5, "SELL", 10.5, "#f25a6a");
label(131, 95, "0.01", 10.5, "#333");
chrome.append("rect").attr("x", 150).attr("y", 70).attr("width", 45).attr("height", 37).attr("rx", 5).attr("fill", "#fff").attr("stroke", "#3d6cf0");
label(172, 89.5, "2.99", 11, "#2962ff", "middle", "bold");
label(172, 103.5, "BUY", 10.5, "#3d6cf0");

// collapse buttons
function paneButton(py, count) {
    var w = count ? 38 : 29;
    chrome.append("rect").attr("x", 66).attr("y", py - 10).attr("width", w).attr("height", 20).attr("rx", 3).attr("fill", "#fff").attr("stroke", "#dcdcdc");
    icon(count ? 76 : 80, py - 1, "M-3.5,-1.5 L0,1.5 L3.5,-1.5", 1.2);
    if (count) label(92, py + 4.5, count, 12.5, "#333");
    chrome.append("circle").attr("cx", 119 + (count ? 10 : 0)).attr("cy", py).attr("r", 9).attr("fill", "#ece6fb");
    icon(119 + (count ? 10 : 0), py, "M-5,-1 A5,5 0 0 1 4.5,-2 M5,1 A5,5 0 0 1 -4.5,2 M4.5,-5 V-2 H1.5 M-4.5,5 V2 H-1.5", 1.5, null, "#7c3aed");
}
paneButton(126, "12");
paneButton(597);
paneButton(690);
paneButton(791);

// floating wave widget
chrome.append("rect").attr("x", 540).attr("y", 102).attr("width", 100).attr("height", 35).attr("rx", 5).attr("fill", "#fff").attr("style", "filter:drop-shadow(0 1px 3px rgba(0,0,0,.2))");
[112, 117, 122].forEach(function(dy) {
    [549, 554].forEach(function(dx) {
        chrome.append("rect").attr("x", dx - 1).attr("y", dy).attr("width", 2).attr("height", 2).attr("fill", "#d0d0d0");
    });
});
[[572, "1", "5"], [609, "A", "C"]].forEach(function(w) {
    icon(w[0], 124, "M0,3 L6,-3 L13,3 L20,-3", 1);
    [[0, 3], [6, -3], [13, 3], [20, -3]].forEach(function(c) {
        chrome.append("circle").attr("cx", w[0] + c[0]).attr("cy", 124 + c[1]).attr("r", 1.8).attr("fill", "#fff").attr("stroke", "#333");
    });
    label(w[0] + 7, 114, w[1], 8, "#111", "middle", "bold");
    label(w[0] + 21, 114, w[2], 8, "#111", "middle", "bold");
});

// currency selectors
[60, 596, 689].forEach(function(cy) {
    chrome.append("rect").attr("x", 968).attr("y", cy - 12.5).attr("width", 58).attr("height", 25).attr("rx", 4).attr("fill", "#fff").attr("stroke", "#ededed");
    label(972, cy + 4, "MYR", 11.5, "#333", "start");
    icon(1019, cy, "M-2.5,-1 L0,1.5 L2.5,-1", 1.1);
});

// left drawing tools
var leftIcons = [
    [104, "M-7,7 L7,-7 M-9,9 a2,2 0 1 0 0.1,0 M9,-9 a2,2 0 1 0 0.1,0"],
    [144, "M-12,-8 H10 M-12,0 H10 M-12,8 H10 M10,-2 a2,2 0 1 0 0.1,0 M-12,8 a2,2 0 1 0 0.1,0"],
    [181, "M-8,-9 L-10,9 L8,-9 L10,9 L-8,-9 M-8,-9 a2,2 0 1 0 0.1,0 M8,-9 a2,2 0 1 0 0.1,0 M-10,9 a2,2 0 1 0 0.1,0 M10,9 a2,2 0 1 0 0.1,0"],
    [219, "M-8,-9 H11 M-8,9 H11 M-12,-9 a2,2 0 1 0 0.1,0 M-12,9 a2,2 0 1 0 0.1,0 M-1,-3 V3 H3"],
    [258, "M-10,9 C-8,1 -2,-3 2,-2 C3,3 -2,8 -10,9 M3,-4 C5,-8 9,-8 11,-9"],
    [295, "M-7,-8 H7 M0,-8 V9 M-3,9 H3 M-7,-8 V-6 M7,-8 V-6"],
    [333, "M0,-10 a10,10 0 1 0 0.1,0 M-5,3 Q0,8 5,3 M-3.5,-3 V-1 M3.5,-3 V-1"],
    [383, "M-11,4 L4,-10 L11,-3 L-4,11 Z M-6,-0.5 L-3,2.5 M-2,-4 L1,-1 M2,-8 L5,-5"],
    [421, "M-1,-9 a8,8 0 1 0 0.1,0 M5,5 L10,10 M-5,-1 H3 M-1,-5 V3"],
    [473, "M-8,9 V-2 A8,8 0 0 1 8,-2 V9 H3 V-2 A3,3 0 0 0 -3,-2 V9 Z M-8,5 H-3 M3,5 H8"],
    [511, "M-9,7 L-7,2 L3,-8 L7,-4 L-3,6 Z M4,5 H10 V11 H4 Z M5,5 V3 A2,2 0 0 1 9,3"],
    [549, "M-6,-1 H6 V9 H-6 Z M-3,-1 V-5 A3,3 0 0 1 3,-5 M0,3 V5"],
    [587, "M-10,0 Q0,-9 10,0 Q0,9 -10,0 Z M0,-3 a3,3 0 1 0 0.1,0"],
    [625, "M-7,4 L2,-5 A3,3 0 0 1 7,0 L-2,9 A3,3 0 0 1 -7,4 M-3,-1 L-8,4 M3,1 L8,-4"],
    [676, "M-8,-6 H8 M-3,-6 V-9 H3 V-6 M-6,-6 L-5,9 H5 L6,-6"]
];
leftIcons.forEach(function(d) { icon(26, d[0], d[1], 1.1); });
[358, 446, 650].forEach(function(yy) {
    chrome.append("line").attr("x1", 9).attr("x2", 43).attr("y1", yy).attr("y2", yy).attr("stroke", "#e6e6e6");
});
chrome.append("rect").attr("x", 9).attr("y", 1024).attr("width", 34).attr("height", 34).attr("rx", 5).attr("fill", "#2e2e2e");
icon(26, 1041, "M0,-9 L2.6,-3 L9,-2.5 L4,1.6 L5.6,8 L0,4.6 L-5.6,8 L-4,1.6 L-9,-2.5 L-2.6,-3 Z", 1.1, null, "#fff");

// right side tools
var rightIcons = [
    [66, "M-10,-10 H10 V11 L0,7 L-10,11 Z M-6,-5 H6 M-6,-1 H6 M-6,3 H6"],
    [111, "M0,-9 a10,10 0 1 0 0.1,0 M0,-4 V1 H-4 M-8,-11 L-12,-8 M8,-11 L12,-8"],
    [157, "M0,-10 L12,-4 L0,2 L-12,-4 Z M-12,1 L0,7 L12,1 M-12,5 L0,11 L12,5"],
    [203, "M-12,-9 H12 V8 H3 L0,12 L-3,8 H-12 Z M-6,-3 H6 M-6,2 H6"],
    [772, "M0,-14 a14,14 0 1 0 0.1,0 M0,-8 a8,8 0 1 0 0.1,0 M0,-2 a2,2 0 1 0 0.1,0 M0,0 L8,-9"],
    [816, "M0,-13 L8,-3 L13,7 H-13 L-8,-3 Z M-8,-3 L0,3 L8,-3"],
    [860, "M-12,-9 H12 V11 H-12 Z M-12,-4 H12 M-6,-12 V-6 M6,-12 V-6"],
    [912, "M-11,-6 A16,16 0 0 1 11,8 M-11,0 A10,10 0 0 1 5,8 M-10,5 A5,5 0 0 1 -1,8 M-10,8 a1.5,1.5 0 1 0 0.1,0"],
    [955, "M0,-11 C-8,-11 -8,-3 -8,3 L-11,7 H11 L8,3 C8,-3 8,-11 0,-11 M-3,10 H3"]
];
rightIcons.forEach(function(d) { icon(1058, d[0], d[1], 1.1); });
badge(1068, 192, "1", 16);
badge(1061, 896, "99+", 29);
badge(1065, 942, "59", 22);
chrome.append("circle").attr("cx", 1058).attr("cy", 998).attr("r", 17).attr("fill", "#2e2e2e");
d3.range(3).forEach(function(r) {
    d3.range(3).forEach(function(c) {
        chrome.append("rect").attr("x", 1050 + c * 6).attr("y", 990 + r * 6).attr("width", 4).attr("height", 4).attr("fill", "#fff");
    });
});
chrome.append("line").attr("x1", 1041).attr("x2", 1075).attr("y1", 1027).attr("y2", 1027).attr("stroke", "#e6e6e6");
icon(1058, 1055, "M0,-14 a14,14 0 1 0 0.1,0", 1.1);
label(1058, 1061, "?", 17, "#1a1a1a");

// bottom bar
ranges.forEach(function(t, i) { label(rangeX[i], 1066, t, 13, "#333"); });
chrome.append("line").attr("x1", 349).attr("x2", 349).attr("y1", 1050).attr("y2", 1072).attr("stroke", "#e0e0e0");
icon(371, 1061, "M-8,-7 H9 V10 H2 M-8,-7 V2 M-8,-3 H9 M-4,-9 V-5 M5,-9 V-5 M-9,5 H-2 M-4,3 L-2,5 L-4,7", 1);
label(924, 1066, "13:33:21 UTC+8", 13, "#333");
chrome.append("line").attr("x1", 985).attr("x2", 985).attr("y1", 1050).attr("y2", 1072).attr("stroke", "#e0e0e0");
label(1008, 1066, "ADJ", 13, "#333");
icon(997, 1027, "M-8,0 L-4,-7 H4 L8,0 L4,7 H-4 Z M0,-2.5 a2.5,2.5 0 1 0 0.1,0", 1.1);

// tooltip goes over everything in the corner
chrome.append("path").attr("d", "M21,44 L27,39 L33,44 Z").attr("fill", "#2a2a2a");
chrome.append("rect").attr("x", 10).attr("y", 43).attr("width", 211).attr("height", 41).attr("rx", 3).attr("fill", "#2a2a2a");
label(18, 60, "Logged in as MahersahamOfficial", 12.3, "#e8e8e8", "start");
label(18, 77, "Active layout: INtraswing 1D", 12.3, "#e8e8e8", "start");
</script>
</body>
</html>
